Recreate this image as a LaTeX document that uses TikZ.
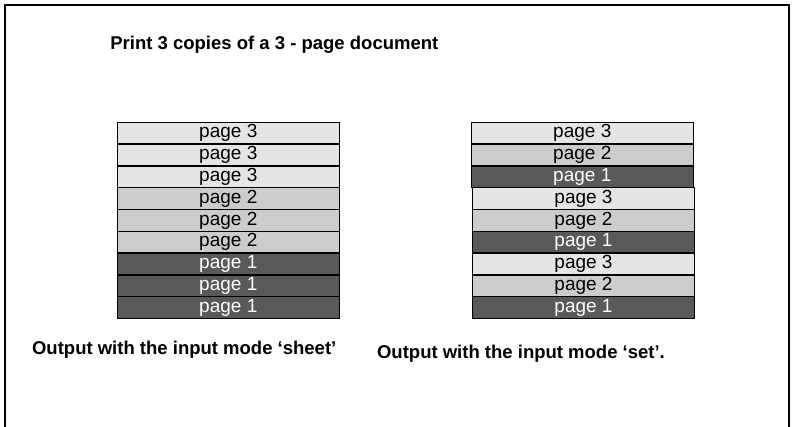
\documentclass[tikz,border=0pt]{standalone}
\usepackage{fontspec}
\setmainfont{Liberation Sans}
\definecolor{pagelight}{HTML}{E5E5E5}
\definecolor{pagemid}{HTML}{CCCCCC}
\definecolor{pagedark}{HTML}{595959}
\tikzset{
    pagebox/.style={draw=black, line width=0.7pt, rectangle, minimum width=111pt,
        minimum height=10.9pt, inner sep=0pt, outer sep=0pt,
        font=\fontsize{9.5}{10}\selectfont},
    shade3/.style={pagebox, fill=pagelight, text=black},
    shade2/.style={pagebox, fill=pagemid, text=black},
    shade1/.style={pagebox, fill=pagedark, text=white},
    caption/.style={anchor=base west, inner sep=0pt, font=\fontsize{9.25}{11}\selectfont\bfseries}
}
\begin{document}
\begin{tikzpicture}[x=0.5pt, y=-0.5pt]
    \useasboundingbox (0,0) rectangle (793,427);
    % Outer frame
    \draw[line width=1pt] (5,440) -- (5,5) -- (789,5) -- (789,440);

    % Title
    \node[caption] (title) at (110,50) {Print 3 copies of a 3 - page document};

    % Stack for input mode sheet
    \foreach \p [count=\i] in {3,3,3,2,2,2,1,1,1} {
        \node[shade\p] (sheet\i) at (228.3, {122.3+21.8*(\i-0.5)}) {page \p};
    }

    % Stack for input mode set
    \foreach \p [count=\i] in {3,2,1,3,2,1,3,2,1} {
        \node[shade\p] (set\i) at ({\i<4 ? 582.3 : 583.5}, {122.3+21.8*(\i-0.5)}) {page \p};
    }

    % Captions
    \node[caption] (sheetlabel) at (31.7,355) {Output with the input mode ‘sheet’};
    \node[caption] (setlabel) at (376.7,358) {Output with the input mode ‘set’.};
\end{tikzpicture}
\end{document}
